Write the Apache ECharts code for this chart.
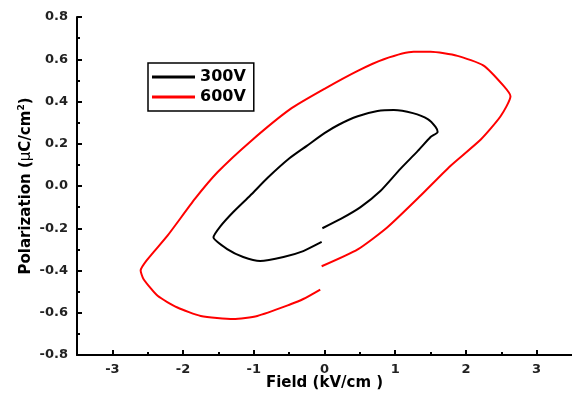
<!DOCTYPE html>
<html>
<head>
<meta charset="utf-8">
<script src="https://cdn.jsdelivr.net/npm/echarts@6/dist/echarts.min.js"></script>
<style>
  html, body { margin: 0; padding: 0; background: #fff; }
  #chart { width: 572px; height: 396px; }
</style>
</head>
<body>
<div id="chart"></div>
<script>
// 300V loop, traced from the start near E=0 going round counter-clockwise
const field300 = [-0.03, 0.23, 0.51, 0.79, 1.07, 1.32, 1.50, 1.60, 1.57, 1.46, 1.25, 0.98, 0.75, 0.47, 0.20, 0.00, -0.25, -0.50, -0.80, -1.05, -1.29, -1.47, -1.57, -1.37, -1.15, -0.91, -0.58, -0.30, -0.04];
const pol300 = [-0.20, -0.156, -0.10, -0.024, 0.08, 0.166, 0.232, 0.256, 0.28, 0.317, 0.345, 0.36, 0.355, 0.33, 0.29, 0.25, 0.19, 0.13, 0.04, -0.045, -0.123, -0.19, -0.243, -0.30, -0.336, -0.355, -0.336, -0.308, -0.265];

// 600V loop
const field600 = [-0.04, 0.47, 0.89, 1.36, 1.78, 2.21, 2.49, 2.63, 2.53, 2.25, 1.88, 1.50, 1.26, 0.84, 0.47, 0.00, -0.48, -1.05, -1.51, -1.83, -2.22, -2.50, -2.60, -2.56, -2.36, -2.08, -1.75, -1.29, -0.95, -0.48, -0.30, -0.06];
const pol600 = [-0.38, -0.30, -0.195, -0.045, 0.095, 0.22, 0.33, 0.425, 0.475, 0.57, 0.616, 0.635, 0.635, 0.60, 0.545, 0.46, 0.365, 0.21, 0.066, -0.06, -0.235, -0.346, -0.40, -0.44, -0.52, -0.575, -0.615, -0.63, -0.615, -0.56, -0.535, -0.49];

const xMajor = [-3, -2, -1, 0, 1, 2, 3];
const xMinor = [-2.5, -1.5, -0.5, 0.5, 1.5, 2.5];

const font = 'DejaVu Sans, sans-serif';

const pairs = (xs, ys) => xs.map((x, i) => [x, ys[i]]);

const chart = echarts.init(document.getElementById('chart'));
chart.setOption({
  animation: false,
  grid: { left: 77, right: 0, top: 17, bottom: 41, containLabel: false, outerBoundsMode: 'none' },
  legend: {
    orient: 'vertical',
    left: 148,
    top: 63,
    padding: [6, 8, 6, 4],
    itemGap: 4,
    itemWidth: 43,
    itemHeight: 3,
    icon: 'rect',
    borderColor: '#000',
    borderWidth: 1.5,
    borderRadius: 0,
    textStyle: { fontFamily: font, fontWeight: 'bold', fontSize: 16, color: '#000' },
    data: ['300V', '600V']
  },
  xAxis: [{
    type: 'value',
    min: -3.5,
    max: 3.5,
    name: 'Field (kV/cm )',
    nameLocation: 'middle',
    nameGap: 21,
    nameMoveOverlap: false,
    nameTextStyle: { fontFamily: font, fontWeight: 'bold', fontSize: 15, color: '#000' },
    axisLine: { onZero: false, lineStyle: { color: '#000', width: 2 } },
    axisTick: { inside: true, length: 5, customValues: xMajor, lineStyle: { color: '#000', width: 2 } },
    axisLabel: { customValues: xMajor, fontFamily: font, fontWeight: 'bold', fontSize: 13, color: '#222', margin: 8 },
    splitLine: { show: false }
  }, {
    type: 'value',
    min: -3.5,
    max: 3.5,
    position: 'bottom',
    axisLine: { show: false, onZero: false },
    axisTick: { inside: true, length: 3, customValues: xMinor, lineStyle: { color: '#000', width: 2 } },
    axisLabel: { show: false },
    splitLine: { show: false }
  }],
  yAxis: {
    type: 'value',
    min: -0.8,
    max: 0.8,
    interval: 0.2,
    name: '{t|Polarization (}{u|μ}{t|C/cm}{s|2}{t|)}',
    nameLocation: 'middle',
    nameGap: 41,
    nameMoveOverlap: false,
    nameTextStyle: {
      rich: {
        t: { fontFamily: font, fontWeight: 'bold', fontSize: 15, color: '#000' },
        u: { fontFamily: font, fontSize: 15, color: '#000' },
        s: { fontFamily: font, fontWeight: 'bold', fontSize: 9, color: '#000', verticalAlign: 'top', padding: [0, 0, 10, 0] }
      }
    },
    axisLine: { show: true, onZero: false, lineStyle: { color: '#000', width: 2 } },
    axisTick: { show: true, inside: true, length: 5, lineStyle: { color: '#000', width: 2 } },
    minorTick: { show: true, splitNumber: 2, length: 3, lineStyle: { color: '#000', width: 2 } },
    axisLabel: {
      fontFamily: font, fontWeight: 'bold', fontSize: 13, color: '#222', margin: 9,
      formatter: v => v.toFixed(1)
    },
    splitLine: { show: false }
  },
  series: [{
    name: '300V',
    type: 'line',
    xAxisIndex: 0,
    data: pairs(field300, pol300),
    smooth: 0.2,
    showSymbol: false,
    color: '#000',
    lineStyle: { color: '#000', width: 2 }
  }, {
    name: '600V',
    type: 'line',
    xAxisIndex: 0,
    data: pairs(field600, pol600),
    smooth: 0.2,
    showSymbol: false,
    color: '#ff0000',
    lineStyle: { color: '#ff0000', width: 2 }
  }]
});
</script>
</body>
</html>
